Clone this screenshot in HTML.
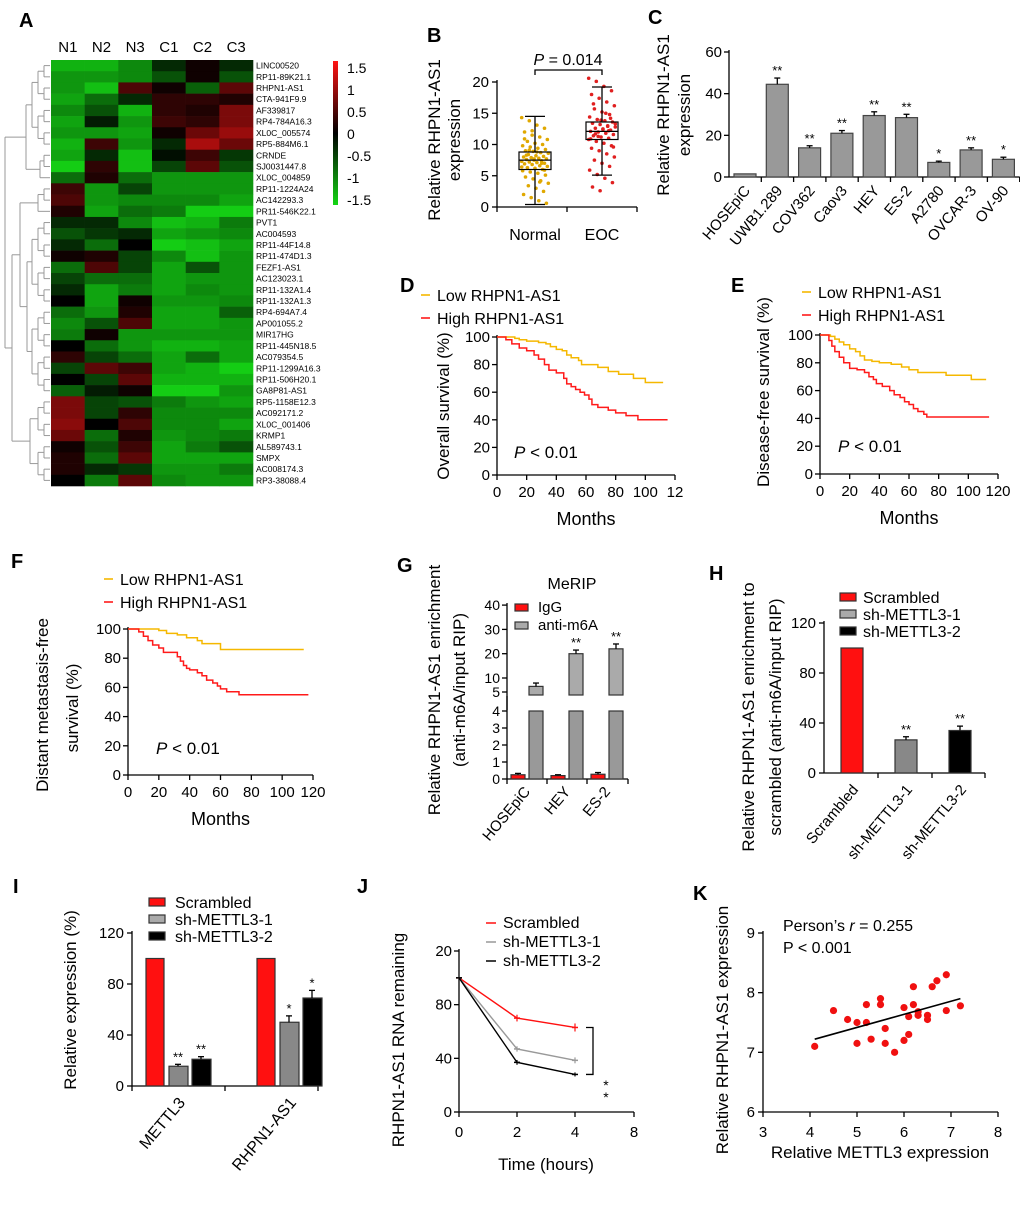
<!DOCTYPE html>
<html><head><meta charset="utf-8"><style>
html,body{margin:0;padding:0;background:#fff;}
svg{display:block;font-family:"Liberation Sans",Arial,sans-serif;}
</style></head>
<body>
<svg id="fig" width="1020" height="1211" viewBox="0 0 1020 1211" xmlns="http://www.w3.org/2000/svg"></svg>
<script>
// ---------- DATA ----------
const heatGenes = ["LINC00520","RP11-89K21.1","RHPN1-AS1","CTA-941F9.9","AF339817","RP4-784A16.3","XL0C_005574","RP5-884M6.1","CRNDE","SJ0031447.8","XL0C_004859","RP11-1224A24","AC142293.3","PR11-546K22.1","PVT1","AC004593","RP11-44F14.8","RP11-474D1.3","FEZF1-AS1","AC123023.1","RP11-132A1.4","RP11-132A1.3","RP4-694A7.4","AP001055.2","MIR17HG","RP11-445N18.5","AC079354.5","RP11-1299A16.3","RP11-506H20.1","GA8P81-AS1","RP5-1158E12.3","AC092171.2","XL0C_001406","KRMP1","AL589743.1","SMPX","AC008174.3","RP3-38088.4"];
const heatSamples = ["N1","N2","N3","C1","C2","C3"];
const heatValues = [
[-1.3,-1.3,-1.0,-0.3,0.1,-0.3],[-1.1,-1.1,-1.0,-0.6,0.1,-0.6],[-1.1,-1.4,0.5,0.1,-0.7,0.6],[-1.2,-0.8,-0.3,0.3,0.3,0.2],
[-1.0,-0.6,-1.3,0.3,0.2,0.8],[-1.2,-0.2,-1.1,0.4,0.3,0.8],[-1.1,-1.1,-1.2,0.1,0.7,1.0],[-1.3,0.4,-1.1,-0.3,1.1,0.7],
[-1.2,-0.3,-1.4,-0.1,0.4,-0.4],[-1.5,0.3,-1.4,-0.5,0.6,-0.6],[-0.8,0.2,-0.8,-1.1,-1.1,-1.1],[0.4,-1.1,-0.5,-1.1,-1.1,-1.1],
[0.5,-1.1,-1.0,-1.0,-1.0,-1.2],[0.2,-1.2,-0.8,-0.9,-1.5,-1.5],[-0.3,-0.3,-1.0,-1.4,-1.3,-0.9],[-0.6,-0.4,-0.3,-1.2,-1.1,-1.0],
[-0.3,-0.8,0.0,-1.5,-1.4,-1.2],[0.1,0.2,-0.5,-1.0,-1.4,-1.1],[-0.8,0.5,-0.5,-1.2,-0.6,-1.1],[-0.5,-0.8,-0.8,-1.2,-1.1,-1.1],
[-0.3,-1.2,-0.9,-1.2,-1.0,-1.1],[0.0,-1.2,0.1,-1.1,-1.1,-1.0],[-0.8,-1.1,0.2,-1.2,-1.2,-0.7],[-1.0,-0.6,0.5,-1.2,-1.2,-1.1],
[-0.9,0.1,-1.1,-1.1,-1.1,-1.1],[0.0,-0.8,-1.1,-1.3,-1.3,-1.2],[0.3,-0.5,-0.8,-1.2,-0.8,-1.2],[-0.5,0.6,0.4,-1.2,-1.3,-1.5],
[0.0,-0.5,0.6,-1.3,-1.3,-1.3],[-0.7,-0.2,0.1,-1.5,-1.5,-1.1],[0.8,-0.5,-0.6,-0.9,-1.1,-1.2],[0.8,-0.5,0.3,-1.0,-1.0,-1.0],
[0.9,0.0,0.5,-1.0,-1.0,-1.2],[0.7,-0.8,0.2,-1.1,-1.0,-0.9],[0.1,-0.6,0.4,-1.2,-0.9,-0.6],[0.2,-0.8,0.6,-1.2,-1.2,-1.2],
[0.2,-0.3,-0.4,-1.1,-1.1,-0.9],[0.0,-0.9,0.6,-1.0,-1.1,-1.1]];
const colorbarTicks = [1.5,1,0.5,0,-0.5,-1,-1.5];

const boxGroups = ["Normal","EOC"];
const boxStats = [[0.4,6.0,7.5,8.8,14.5],[5.1,10.8,12.1,13.6,19.2]];
const normalDots = [14.3,13.8,13.1,12.6,12.0,11.5,11.2,10.8,10.5,10.2,10.0,9.8,9.6,9.4,9.2,9.0,8.9,8.7,8.6,8.4,8.2,8.1,8.0,7.9,7.8,7.7,7.6,7.5,7.4,7.3,7.2,7.1,7.0,6.9,6.8,6.6,6.5,6.3,6.2,6.0,5.8,5.6,5.4,5.1,4.8,4.5,4.2,3.8,3.4,3.0,2.5,2.0,1.5,1.0,0.6,8.3,7.7,7.0,6.4,9.1,8.8,5.9,10.9,12.2,4.0];
const eocDots = [20.6,20.1,19.3,18.6,18.0,17.4,16.8,16.2,15.7,15.2,14.8,14.4,14.0,13.8,13.6,13.4,13.2,13.0,12.8,12.6,12.4,12.3,12.1,12.0,11.8,11.6,11.4,11.2,11.0,10.8,10.5,10.2,9.8,9.4,9.0,8.5,8.0,7.5,7.0,6.5,5.9,5.2,4.6,3.9,3.2,2.6,12.9,13.3,11.7,12.5,14.2,10.9,11.3,15.0,9.6,16.5,13.9,12.2];

const cCats = ["HOSEpiC","UWB1.289","COV362","Caov3","HEY","ES-2","A2780","OVCAR-3","OV-90"];
const cVals = [1.5,44.5,14,21,29.5,28.5,7,13,8.5];
const cErr = [0,3,1,1.3,1.8,1.6,0.6,1,1];
const cStars = ["","**","**","**","**","**","*","**","*"];

const dLowT=[0,12,15,20,28,33,36,40,44,47,50,55,57,68,75,82,92,100,112];
const dLowS=[100,99,98,97,96,95,93,91,90,87,85,83,80,78,75,73,70,67,67];
const dHighT=[0,6,10,15,20,25,28,32,35,40,45,47,50,53,56,59,62,64,68,75,80,87,95,115];
const dHighS=[100,98,95,92,90,87,84,80,76,74,70,66,64,62,60,58,55,51,49,47,45,43,40,40];
const eLowT=[0,7,10,13,16,20,24,27,30,35,40,48,55,60,66,85,102,112];
const eLowS=[100,99,97,95,93,90,88,85,82,81,80,79,77,75,73,71,68,68];
const eHighT=[0,6,8,10,13,16,20,25,30,33,36,38,42,47,50,54,57,60,63,66,70,72,114];
const eHighS=[100,96,92,88,84,80,76,75,73,70,68,65,63,60,57,55,52,50,47,45,43,41,41];
const fLowT=[0,20,25,32,38,45,48,60,114];
const fLowS=[100,99,97,96,94,92,90,86,86];
const fHighT=[0,7,10,13,16,20,23,32,34,36,38,40,45,48,51,55,58,60,64,72,117];
const fHighS=[100,98,95,92,89,87,84,81,78,75,73,72,70,68,65,63,61,59,57,55,55];
const kmTicksY=[0,20,40,60,80,100];
const kmTicksX=[0,20,40,60,80,100,120];

const gCells=["HOSEpiC","HEY","ES-2"];
const gIgG=[0.25,0.2,0.28];
const gIgGErr=[0.08,0.05,0.1];
const gAnti=[7,20,22];
const gAntiErr=[1.2,1.5,2];
const gStars=["","**","**"];
const gTicks=[0,1,2,3,4,5,10,20,30,40];

const hCats=["Scrambled","sh-METTL3-1","sh-METTL3-2"];
const hVals=[100,26.5,34];
const hErr=[0,2.5,3.5];
const hStars=["","**","**"];
const barTicks=[0,40,80,120];

const iGenes=["METTL3","RHPN1-AS1"];
const iScr=[100,100];
const iSh1=[15.5,50];
const iSh2=[21,69];
const iSh1Err=[1.5,5];
const iSh2Err=[2,6];
const iStars1=["**","*"];
const iStars2=["**","*"];

const jTimes=[0,2,4];
const jTickLabels=["0","2","4","8"];
const jScr=[100,70,63];
const jSh1=[100,47,38.5];
const jSh2=[100,37,28];
const jErr=[[0,2.5,3],[0,2,2.2],[0,1.8,1.5]];
const jYTicks=[0,40,80,120];
const jYLabels=["0","40","80","20"];

const kX=[4.1,4.5,4.8,5.0,5.0,5.2,5.2,5.3,5.5,5.5,5.6,5.6,5.8,6.0,6.0,6.1,6.1,6.2,6.2,6.3,6.3,6.5,6.5,6.6,6.7,6.9,6.9,7.2];
const kY=[7.1,7.7,7.55,7.5,7.15,7.8,7.5,7.22,7.9,7.8,7.4,7.15,7.0,7.75,7.2,7.6,7.3,8.1,7.8,7.68,7.62,7.62,7.55,8.1,8.2,8.3,7.7,7.78];
const kFit=[[4.1,7.22],[7.2,7.9]];
const kXTicks=[3,4,5,6,7,8];
const kYTicks=[6,7,8,9];

// ---------- HELPERS ----------
const NS="http://www.w3.org/2000/svg";
const svg=document.getElementById('fig');
function mk(tag,name,attrs,parent){
  const e=document.createElementNS(NS,tag);
  
  
  for(const k in attrs) e.setAttribute(k,attrs[k]);
  (parent||svg).appendChild(e);
  return e;
}
function L(x1,y1,x2,y2,name,stroke,w){return mk('line',name,{x1,y1,x2,y2,stroke:stroke||'#000','stroke-width':w||1.3});}
function R(x,y,w,h,name,fill,stroke){return mk('rect',name,{x,y,width:w,height:h,fill,stroke:stroke||'none','stroke-width':1.2});}
function T(x,y,s,name,o){
  o=o||{};
  const a={x,y,'font-size':o.fs||15,'text-anchor':o.a||'start',fill:o.fill||'#000'};
  if(o.b)a['font-weight']='bold';
  if(o.it)a['font-style']='italic';
  if(o.rot!==undefined)a.transform=`rotate(${o.rot} ${x} ${y})`;
  const e=mk('text',name,a);
  e.textContent=s;return e;
}
function lin(d0,d1,r0,r1){return v=>r0+(v-d0)*(r1-r0)/(d1-d0);}
function P(d,name,stroke,w,fill){return mk('path',name,{d,stroke:stroke||'#000','stroke-width':w||1.3,fill:fill||'none'});}
function errBar(x,yTop,yErr,name){L(x,yTop,x,yErr,name);L(x-3,yErr,x+3,yErr,name+'-cap');}

// ---------- PANEL A ----------
T(19,27,"A","panel-label-a",{fs:20,b:1});
const hx0=51,hx1=253,hy0=60,hy1=486;
const cw=(hx1-hx0)/heatSamples.length, rh=(hy1-hy0)/heatGenes.length;
function heatColor(v){const t=Math.min(1,Math.abs(v)/1.5);
  if(v<0)return `rgb(${Math.round(20*t)},${Math.round(205*t)},${Math.round(20*t)})`;
  return `rgb(${Math.round(230*t)},${Math.round(18*t)},${Math.round(18*t)})`;}
heatSamples.forEach((s,j)=>T(hx0+cw*j+cw/2,52,s,"heatmap-column-label",{fs:15,a:'middle'}));
heatValues.forEach((row,i)=>{row.forEach((v,j)=>{R(hx0+cw*j,hy0+rh*i,cw+0.3,rh+0.3,"heatmap-cell",heatColor(v));});
  T(256,hy0+rh*i+rh/2+3,heatGenes[i],"gene-label",{fs:8.5});});
const cb=mk('linearGradient','colorbar-gradient',{id:'cbg',x1:0,y1:0,x2:0,y2:1});
[[0,'rgb(255,20,20)'],[0.5,'#000'],[1,'rgb(20,215,20)']].forEach(s=>mk('stop','gradient-stop',{offset:s[0],'stop-color':s[1]},cb));
R(333,61,5,144,"colorbar","url(#cbg)");
const cbY=lin(1.5,-1.5,68,200);
colorbarTicks.forEach(v=>T(347,cbY(v)+5,String(v),"colorbar-tick",{fs:14}));
function dend(){
  const yc=i=>hy0+rh*i+rh/2;
  const g='#999';
  const pairs=[[0,1],[2,3],[4,5],[6,7],[8,9],[11,12],[14,15],[16,17],[18,19],[20,21],[22,23],[24,25],[26,27],[28,29],[30,31],[32,33],[34,35],[36,37]];
  const mids={};
  pairs.forEach(p=>{const x=44;const a=yc(p[0]),b=yc(p[1]);
    L(50,a,x,a,"dendrogram-branch",g,1);L(50,b,x,b,"dendrogram-branch",g,1);L(x,a,x,b,"dendrogram-branch",g,1);mids[p[0]]=(a+b)/2;});
  function join(ya,yb,xa,xb,x){L(xa,ya,x,ya,"dendrogram-branch",g,1);L(xb,yb,x,yb,"dendrogram-branch",g,1);L(x,ya,x,yb,"dendrogram-branch",g,1);return (ya+yb)/2;}
  const a1=join(mids[0],mids[2],44,44,38), a2=join(mids[4],mids[6],44,44,38);
  const a3=join(a1,a2,38,38,32); const a4=join(mids[8],yc(10),44,50,40);
  const A=join(a3,a4,32,40,26);
  const b1=join(mids[11],yc(13),44,50,38);
  const c1=join(mids[14],mids[16],44,44,38), c2=join(mids[18],mids[20],44,44,38), c3=join(mids[22],mids[24],44,44,38), c4=join(mids[26],mids[28],44,44,38);
  const c12=join(c1,c2,38,38,32), c34=join(c3,c4,38,38,32); const C=join(c12,c34,32,32,27);
  const d1=join(mids[30],mids[32],44,44,38), d2=join(mids[34],mids[36],44,44,38); const D=join(d1,d2,38,38,30);
  const BC=join(b1,C,38,27,20); const BCD=join(BC,D,20,30,12);
  join(A,BCD,26,12,5);
}
dend();

// ---------- PANEL B ----------
T(427,42,"B","panel-label-b",{fs:20,b:1});
const bY=lin(0,20,207,82);
const bX=[535,602];
L(497,80,497,207,"b-y-axis");L(497,207,637,207,"b-x-axis");
[0,5,10,15,20].forEach(v=>{L(492,bY(v),497,bY(v),"b-y-tick");T(489,bY(v)+5,String(v),"b-y-tick-label",{fs:15,a:'end'});});
[497,567,637].forEach(x=>L(x,207,x,212,"b-x-tick"));
const dotCols=['#e0a800','#e02020'];
[normalDots,eocDots].forEach((arr,gi)=>{arr.forEach((v,i)=>{const off=((i*37)%29-14)*0.95;
  mk('circle',gi?'eoc-dot':'normal-dot',{cx:bX[gi]+off,cy:bY(v),r:1.8,fill:dotCols[gi]});});});
boxStats.forEach((s,gi)=>{const cx=bX[gi],hw=16;
  R(cx-hw,bY(s[3]),hw*2,bY(s[1])-bY(s[3]),"box-"+boxGroups[gi],'none','#000');
  L(cx-hw,bY(s[2]),cx+hw,bY(s[2]),"box-median");
  L(cx,bY(s[3]),cx,bY(s[4]),"whisker");L(cx,bY(s[1]),cx,bY(s[0]),"whisker");
  L(cx-10,bY(s[4]),cx+10,bY(s[4]),"whisker-cap");L(cx-10,bY(s[0]),cx+10,bY(s[0]),"whisker-cap");
  T(cx,240,boxGroups[gi],"b-x-label",{fs:16,a:'middle'});});
P(`M${bX[0]},75 V70 H${bX[1]} V75`,"p-value-bracket");
const pt=T(568,65,"","p-value-label",{fs:16,a:'middle'});
pt.innerHTML='<tspan font-style="italic">P</tspan> = 0.014';
T(440,140,"Relative RHPN1-AS1","b-y-title",{fs:17,a:'middle',rot:-90});
T(460,140,"expression","b-y-title-2",{fs:17,a:'middle',rot:-90});

// ---------- PANEL C ----------
T(648,24,"C","panel-label-c",{fs:20,b:1});
const cY=lin(0,60,177,52);
const cX0=729, cStep=32.3, cx=i=>cX0+16+cStep*i;
L(cX0,50,cX0,177,"c-y-axis");L(cX0,177,cX0+cStep*9,177,"c-x-axis");
[0,20,40,60].forEach(v=>{L(cX0-5,cY(v),cX0,cY(v),"c-y-tick");T(cX0-7,cY(v)+5,String(v),"c-y-tick-label",{fs:15,a:'end'});});
cCats.forEach((c,i)=>{const x=cx(i);
  L(cX0+cStep*(i+1),177,cX0+cStep*(i+1),182,"c-x-tick");
  R(x-11,cY(cVals[i]),22,177-cY(cVals[i]),"bar-"+c,'#999','#444');
  if(cErr[i])errBar(x,cY(cVals[i]),cY(cVals[i]+cErr[i]),"c-error-bar");
  if(cStars[i])T(x,cY(cVals[i]+cErr[i])-3,cStars[i],"significance-stars",{fs:13,a:'middle'});
  T(x+6,191,c,"c-x-label",{fs:15,a:'end',rot:-50});});
T(669,115,"Relative RHPN1-AS1","c-y-title",{fs:17,a:'middle',rot:-90});
T(690,115,"expression","c-y-title-2",{fs:17,a:'middle',rot:-90});

// ---------- KM PANELS ----------
function km(o){
  const X=lin(0,120,o.x0,o.x1), Y=lin(0,100,o.y0,o.y1);
  L(o.x0,o.y1-2,o.x0,o.y0,o.id+"-y-axis");L(o.x0,o.y0,o.x1,o.y0,o.id+"-x-axis");
  kmTicksY.forEach(v=>{L(o.x0-5,Y(v),o.x0,Y(v),o.id+"-y-tick");T(o.x0-7,Y(v)+5,String(v),o.id+"-y-tick-label",{fs:15,a:'end'});});
  kmTicksX.forEach((v,i)=>{L(X(v),o.y0,X(v),o.y0+5,o.id+"-x-tick");T(X(v),o.y0+22,(o.trunc&&v===120)?"12":String(v),o.id+"-x-tick-label",{fs:15,a:'middle'});});
  function step(t,s,col,name){let d=`M${X(t[0])},${Y(s[0])}`;for(let i=1;i<t.length;i++){d+=` H${X(t[i])} V${Y(s[i])}`;}P(d,name,col,1.5);}
  step(o.lt,o.ls,'#f5b800',o.id+"-low-curve");step(o.ht,o.hs,'#ff1a1a',o.id+"-high-curve");
  L(o.lgx,o.lgy,o.lgx+9,o.lgy,o.id+"-legend-low-swatch",'#f5b800',1.6);
  T(o.lgx+16,o.lgy+6,"Low RHPN1-AS1",o.id+"-legend-low",{fs:16});
  L(o.lgx,o.lgy+23,o.lgx+9,o.lgy+23,o.id+"-legend-high-swatch",'#ff1a1a',1.6);
  T(o.lgx+16,o.lgy+29,"High RHPN1-AS1",o.id+"-legend-high",{fs:16});
  const p=T(o.px,o.py,"",o.id+"-p-value",{fs:17});p.innerHTML='<tspan font-style="italic">P</tspan> &lt; 0.01';
  T((o.x0+o.x1)/2,o.y0+50,"Months",o.id+"-x-title",{fs:18,a:'middle'});
}
T(400,292,"D","panel-label-d",{fs:20,b:1});
km({id:'d',x0:497,x1:675,y0:475,y1:337,lt:dLowT,ls:dLowS,ht:dHighT,hs:dHighS,lgx:421,lgy:295,px:514,py:458,trunc:1});
T(449,406,"Overall survival (%)","d-y-title",{fs:17,a:'middle',rot:-90});
T(731,292,"E","panel-label-e",{fs:20,b:1});
km({id:'e',x0:820,x1:998,y0:474,y1:335,lt:eLowT,ls:eLowS,ht:eHighT,hs:eHighS,lgx:802,lgy:292,px:838,py:452});
T(769,392,"Disease-free survival (%)","e-y-title",{fs:17,a:'middle',rot:-90});
T(11,568,"F","panel-label-f",{fs:20,b:1});
km({id:'f',x0:128,x1:313,y0:775,y1:629,lt:fLowT,ls:fLowS,ht:fHighT,hs:fHighS,lgx:104,lgy:579,px:156,py:754});
T(48,705,"Distant metastasis-free","f-y-title",{fs:17,a:'middle',rot:-90});
T(78,708,"survival (%)","f-y-title-2",{fs:17,a:'middle',rot:-90});

// ---------- PANEL G ----------
T(397,572,"G","panel-label-g",{fs:20,b:1});
function gY(v){if(v<=4)return 779-v*17;if(v<=10)return 692-(v-5)*2.8;return 678-(v-10)*2.43;}
L(507,603,507,779,"g-y-axis");L(507,779,628,779,"g-x-axis");
gTicks.forEach(v=>{L(502,gY(v),507,gY(v),"g-y-tick");T(500,gY(v)+5,String(v),"g-y-tick-label",{fs:14,a:'end'});});
[507,547,587,628].forEach(x=>L(x,779,x,784,"g-x-tick"));
gCells.forEach((c,i)=>{const base=511+i*40;
  R(base,gY(gIgG[i]),14,779-gY(gIgG[i]),"igg-bar-"+c,'#ff1010','#333');
  errBar(base+7,gY(gIgG[i]),gY(gIgG[i]+gIgGErr[i]),"igg-error-bar");
  const ax=base+18;
  R(ax,gY(4),14,779-gY(4),"anti-m6a-bar-lower-"+c,'#999','#333');
  R(ax,gY(gAnti[i]),14,gY(5)+3-gY(gAnti[i]),"anti-m6a-bar-upper-"+c,'#aaa','#333');
  errBar(ax+7,gY(gAnti[i]),gY(gAnti[i]+gAntiErr[i]),"anti-m6a-error-bar");
  if(gStars[i])T(ax+7,gY(gAnti[i]+gAntiErr[i])-3,gStars[i],"significance-stars",{fs:13,a:'middle'});
  T(base+20,792,c,"g-x-label",{fs:15,a:'end',rot:-50});});
R(510,701,150,6,"axis-break-gap",'#fff');
L(507,696,507,710,"g-y-axis-gap",'#000',1.3);
T(572,589,"MeRIP","g-title",{fs:16,a:'middle'});
R(515,604,13,7,"legend-igg-swatch",'#ff1010','#333');T(538,612,"IgG","legend-igg",{fs:15});
R(515,622,13,7,"legend-anti-m6a-swatch",'#aaa','#333');T(538,630,"anti-m6A","legend-anti-m6a",{fs:15});
T(440,690,"Relative RHPN1-AS1 enrichment","g-y-title",{fs:17,a:'middle',rot:-90});
T(465,690,"(anti-m6A/input RIP)","g-y-title-2",{fs:17,a:'middle',rot:-90});

// ---------- PANEL H ----------
T(709,580,"H","panel-label-h",{fs:20,b:1});
const hY=lin(0,120,773,623);
L(824,621,824,773,"h-y-axis");L(824,773,985,773,"h-x-axis");
barTicks.forEach(v=>{L(819,hY(v),824,hY(v),"h-y-tick");T(816,hY(v)+5,String(v),"h-y-tick-label",{fs:15,a:'end'});});
const hFill=['#ff1010','#888','#000'];
[878,932,985].forEach(x=>L(x,773,x,778,"h-x-tick"));
hCats.forEach((c,i)=>{const x=852+i*54;
  R(x-11,hY(hVals[i]),22,773-hY(hVals[i]),"bar-"+c,hFill[i],'#333');
  if(hErr[i])errBar(x,hY(hVals[i]),hY(hVals[i]+hErr[i]),"h-error-bar");
  if(hStars[i])T(x,hY(hVals[i]+hErr[i])-3,hStars[i],"significance-stars",{fs:13,a:'middle'});
  T(x+7,790,c,"h-x-label",{fs:15,a:'end',rot:-50});});
hCats.forEach((c,i)=>{R(840,593+i*17,16,8,"legend-swatch-"+c,i==1?'#aaa':hFill[i],'#333');T(863,603+i*17,c,"legend-"+c,{fs:16});});
T(754,717,"Relative RHPN1-AS1 enrichment to","h-y-title",{fs:17,a:'middle',rot:-90});
T(781,717,"scrambled (anti-m6A/input RIP)","h-y-title-2",{fs:17,a:'middle',rot:-90});

// ---------- PANEL I ----------
T(13,893,"I","panel-label-i",{fs:20,b:1});
const iY=lin(0,120,1086,933);
L(132,931,132,1086,"i-y-axis");L(132,1086,318,1086,"i-x-axis");
barTicks.forEach(v=>{L(127,iY(v),132,iY(v),"i-y-tick");T(124,iY(v)+5,String(v),"i-y-tick-label",{fs:15,a:'end'});});
[132,225,318].forEach(x=>L(x,1086,x,1091,"i-x-tick"));
iGenes.forEach((g,k)=>{const b=146+k*111;
  R(b,iY(iScr[k]),18,1086-iY(iScr[k]),"bar-scrambled-"+g,'#ff1010','#333');
  R(b+23,iY(iSh1[k]),19,1086-iY(iSh1[k]),"bar-sh1-"+g,'#888','#333');
  errBar(b+32,iY(iSh1[k]),iY(iSh1[k]+iSh1Err[k]),"i-error-bar");
  T(b+32,iY(iSh1[k]+iSh1Err[k])-3,iStars1[k],"significance-stars",{fs:13,a:'middle'});
  R(b+46,iY(iSh2[k]),19,1086-iY(iSh2[k]),"bar-sh2-"+g,'#000','#333');
  errBar(b+55,iY(iSh2[k]),iY(iSh2[k]+iSh2Err[k]),"i-error-bar");
  T(b+55,iY(iSh2[k]+iSh2Err[k])-3,iStars2[k],"significance-stars",{fs:13,a:'middle'});
  T(b+40,1103,g,"i-x-label",{fs:16,a:'end',rot:-50});});
hCats.forEach((c,i)=>{R(149,898+i*17,16,8,"i-legend-swatch-"+c,i==1?'#aaa':hFill[i],'#333');T(175,908+i*17,c,"i-legend-"+c,{fs:16});});
T(76,1000,"Relative expression (%)","i-y-title",{fs:17,a:'middle',rot:-90});

// ---------- PANEL J ----------
T(357,893,"J","panel-label-j",{fs:20,b:1});
const jY=lin(0,120,1112,951);
const jXpos=[459,517,575,634];
const jX=t=>jXpos[jTickLabels.indexOf(String(t))];
L(459,949,459,1112,"j-y-axis");L(459,1112,634,1112,"j-x-axis");
jYTicks.forEach((v,i)=>{L(454,jY(v),459,jY(v),"j-y-tick");T(452,jY(v)+5,jYLabels[i],"j-y-tick-label",{fs:15,a:'end'});});
jTickLabels.forEach((l,i)=>{L(jXpos[i],1112,jXpos[i],1117,"j-x-tick");T(jXpos[i],1137,l,"j-x-tick-label",{fs:15,a:'middle'});});
const jCols=['#ff1010','#999','#000'];
const jNames=["Scrambled","sh-METTL3-1","sh-METTL3-2"];
[jScr,jSh1,jSh2].forEach((s,k)=>{
  P(s.map((v,i)=>(i?'L':'M')+jX(jTimes[i])+','+jY(v)).join(' '),"j-line-"+jNames[k],jCols[k],1.4);
  s.forEach((v,i)=>{const x=jX(jTimes[i]),y=jY(v);
    L(x-3,y,x+3,y,"j-marker",jCols[k],1.5);
    if(jErr[k][i]){L(x,jY(v-jErr[k][i]),x,jY(v+jErr[k][i]),"j-error-bar",jCols[k],1.2);}});
  L(486,923+k*19,496,923+k*19,"j-legend-swatch",jCols[k],1.5);
  T(503,928+k*19,jNames[k],"j-legend-"+jNames[k],{fs:16});});
P(`M586,${jY(63)} H593 V${jY(28)} H586`,"j-significance-bracket");
T(606,1090,"*","significance-stars",{fs:14,a:'middle'});T(606,1102,"*","significance-stars",{fs:14,a:'middle'});
T(404,1040,"RHPN1-AS1  RNA remaining","j-y-title",{fs:17,a:'middle',rot:-90});
T(546,1170,"Time (hours)","j-x-title",{fs:17,a:'middle'});

// ---------- PANEL K ----------
T(693,900,"K","panel-label-k",{fs:20,b:1});
const kXs=lin(3,8,763,998), kYs=lin(6,9,1112,933);
L(763,931,763,1112,"k-y-axis");L(763,1112,998,1112,"k-x-axis");
kYTicks.forEach(v=>{L(758,kYs(v),763,kYs(v),"k-y-tick");T(755,kYs(v)+5,String(v),"k-y-tick-label",{fs:15,a:'end'});});
kXTicks.forEach(v=>{L(kXs(v),1112,kXs(v),1117,"k-x-tick");T(kXs(v),1137,String(v),"k-x-tick-label",{fs:15,a:'middle'});});
kX.forEach((x,i)=>mk('circle','k-scatter-point',{cx:kXs(x),cy:kYs(kY[i]),r:3.6,fill:'#f01010'}));
L(kXs(kFit[0][0]),kYs(kFit[0][1]),kXs(kFit[1][0]),kYs(kFit[1][1]),"k-regression-line",'#000',1.6);
const kt=T(783,931,"","k-correlation-label",{fs:16});kt.innerHTML='Person’s <tspan font-style="italic">r</tspan> = 0.255';
T(783,953,"P < 0.001","k-p-value",{fs:16});
T(728,1030,"Relative RHPN1-AS1 expression","k-y-title",{fs:17,a:'middle',rot:-90});
T(880,1158,"Relative METTL3 expression","k-x-title",{fs:17,a:'middle'});
</script>
</body></html>
